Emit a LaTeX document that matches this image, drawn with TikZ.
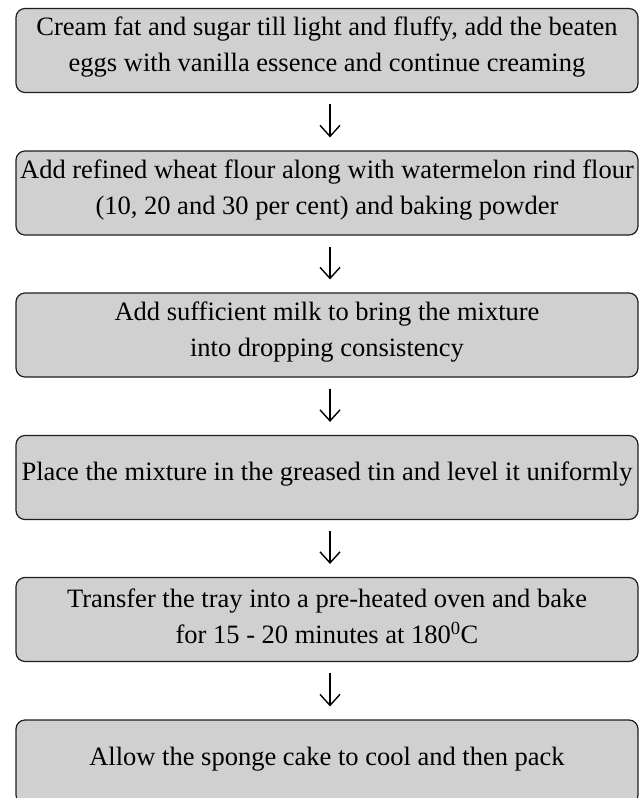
\documentclass[tikz,border=0pt]{standalone}
\usepackage{fontspec}
\setmainfont{Liberation Serif}
\usetikzlibrary{arrows.meta}
\definecolor{boxgray}{RGB}{208,208,208}
\definecolor{edgegray}{RGB}{30,30,30}
\tikzset{
  stepbox/.style={draw=edgegray, line width=1.2pt, fill=boxgray, rounded corners=9pt,
    minimum width=622pt, minimum height=84pt, inner sep=0pt},
  steptext/.style={inner sep=0pt, align=center, font=\fontsize{26.5}{36}\selectfont},
  flow/.style={line width=1.4pt, -{Straight Barb[length=11pt,width=20pt,line width=1.4pt]},
    shorten <=11pt, shorten >=13pt}
}
\begin{document}
\begin{tikzpicture}[x=1pt,y=1pt]
\useasboundingbox (0,0) rectangle (643,-798);
\node[stepbox] (b1) at (327,-50.5) {};
\node[stepbox] (b2) at (327,-193) {};
\node[stepbox] (b3) at (327,-335) {};
\node[stepbox] (b4) at (327,-477.5) {};
\node[stepbox] (b5) at (327,-619.5) {};
\node[stepbox] (b6) at (327,-762) {};
\node[steptext] (t1) at ([yshift=3pt]b1.center) {Cream fat and sugar till light and fluffy, add the beaten\\eggs with vanilla essence and continue creaming};
\node[steptext] (t2) at ([yshift=3pt]b2.center) {Add refined wheat flour along with watermelon rind flour\\(10, 20 and 30 per cent) and baking powder};
\node[steptext] (t3) at ([yshift=3pt]b3.center) {Add sufficient milk to bring the mixture\\into dropping consistency};
\node[steptext] (t4) at ([yshift=3pt]b4.center) {Place the mixture in the greased tin and level it uniformly};
\node[steptext] (t5) at ([yshift=3pt]b5.center) {Transfer the tray into a pre-heated oven and bake\\for 15 - 20 minutes at 180\textsuperscript{0}C};
\node[steptext] (t6) at ([yshift=3pt]b6.center) {Allow the sponge cake to cool and then pack};
\foreach \a/\b in {b1/b2,b2/b3,b3/b4,b4/b5,b5/b6}{
  \draw[flow] ([xshift=3pt]\a.south) -- ([xshift=3pt]\b.north);
}
\end{tikzpicture}
\end{document}
